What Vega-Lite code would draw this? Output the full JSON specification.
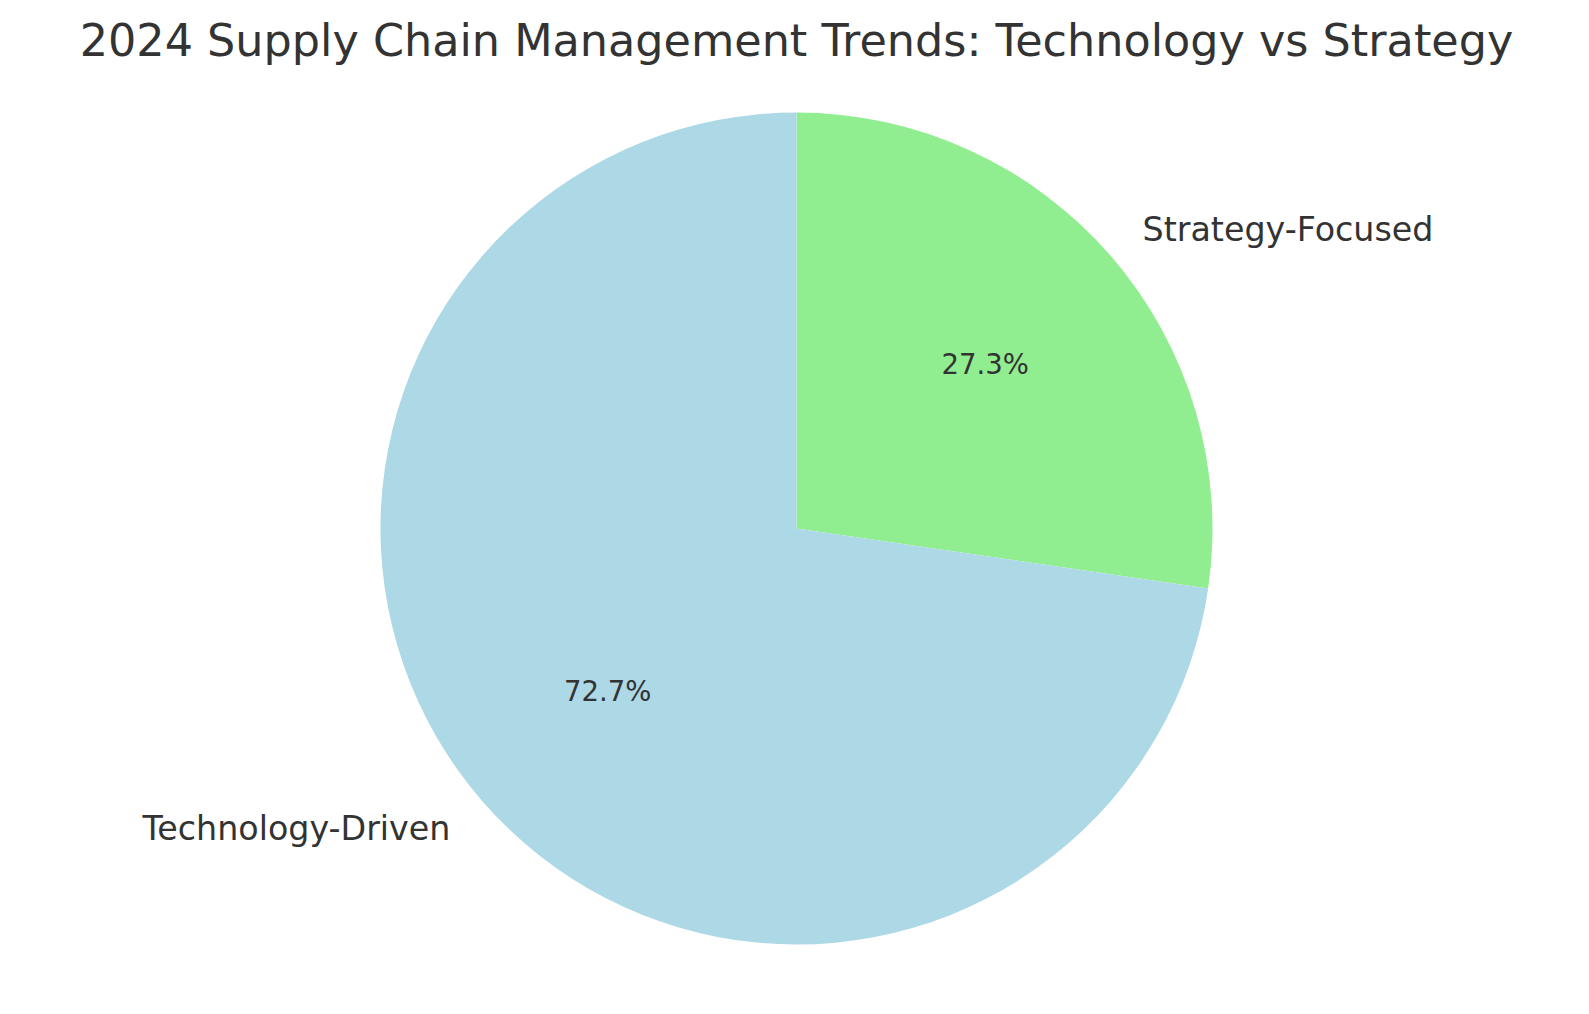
{
  "$schema": "https://vega.github.io/schema/vega-lite/v6.json",
  "width": 1593,
  "height": 857,
  "autosize": {"type": "none"},
  "padding": {"top": 100, "left": 0, "right": 0, "bottom": 0},
  "background": "white",
  "title": {
    "text": "2024 Supply Chain Management Trends: Technology vs Strategy",
    "font": "DejaVu Sans",
    "fontSize": 44.5,
    "fontWeight": "normal",
    "color": "#333333",
    "anchor": "middle",
    "baseline": "alphabetic",
    "offset": 0
  },
  "data": {
    "values": [
      {"category": "Strategy-Focused", "share": 0.273},
      {"category": "Technology-Driven", "share": 0.727}
    ]
  },
  "encoding": {
    "theta": {"field": "share", "type": "quantitative", "stack": true},
    "detail": {"field": "category"}
  },
  "layer": [
    {
      "mark": {"type": "arc", "outerRadius": 416},
      "encoding": {
        "color": {
          "field": "category",
          "type": "nominal",
          "scale": {"domain": ["Strategy-Focused", "Technology-Driven"], "range": ["#90EE90", "#ADD8E6"]},
          "legend": null
        }
      }
    },
    {
      "mark": {"type": "text", "radius": 457.6, "align": "left", "baseline": "middle", "dy": 2, "font": "DejaVu Sans", "fontSize": 33.3, "color": "#333333"},
      "encoding": {
        "text": {"condition": {"test": "datum.category === 'Strategy-Focused'", "field": "category"}, "value": ""}
      }
    },
    {
      "mark": {"type": "text", "radius": 457.6, "align": "right", "baseline": "middle", "dy": 2, "font": "DejaVu Sans", "fontSize": 33.3, "color": "#333333"},
      "encoding": {
        "text": {"condition": {"test": "datum.category === 'Technology-Driven'", "field": "category"}, "value": ""}
      }
    },
    {
      "mark": {"type": "text", "radius": 249.6, "align": "center", "baseline": "middle", "dy": 1, "font": "DejaVu Sans", "fontSize": 27.5, "color": "#333333"},
      "encoding": {
        "text": {"field": "share", "type": "quantitative", "format": ".1%"}
      }
    }
  ]
}
